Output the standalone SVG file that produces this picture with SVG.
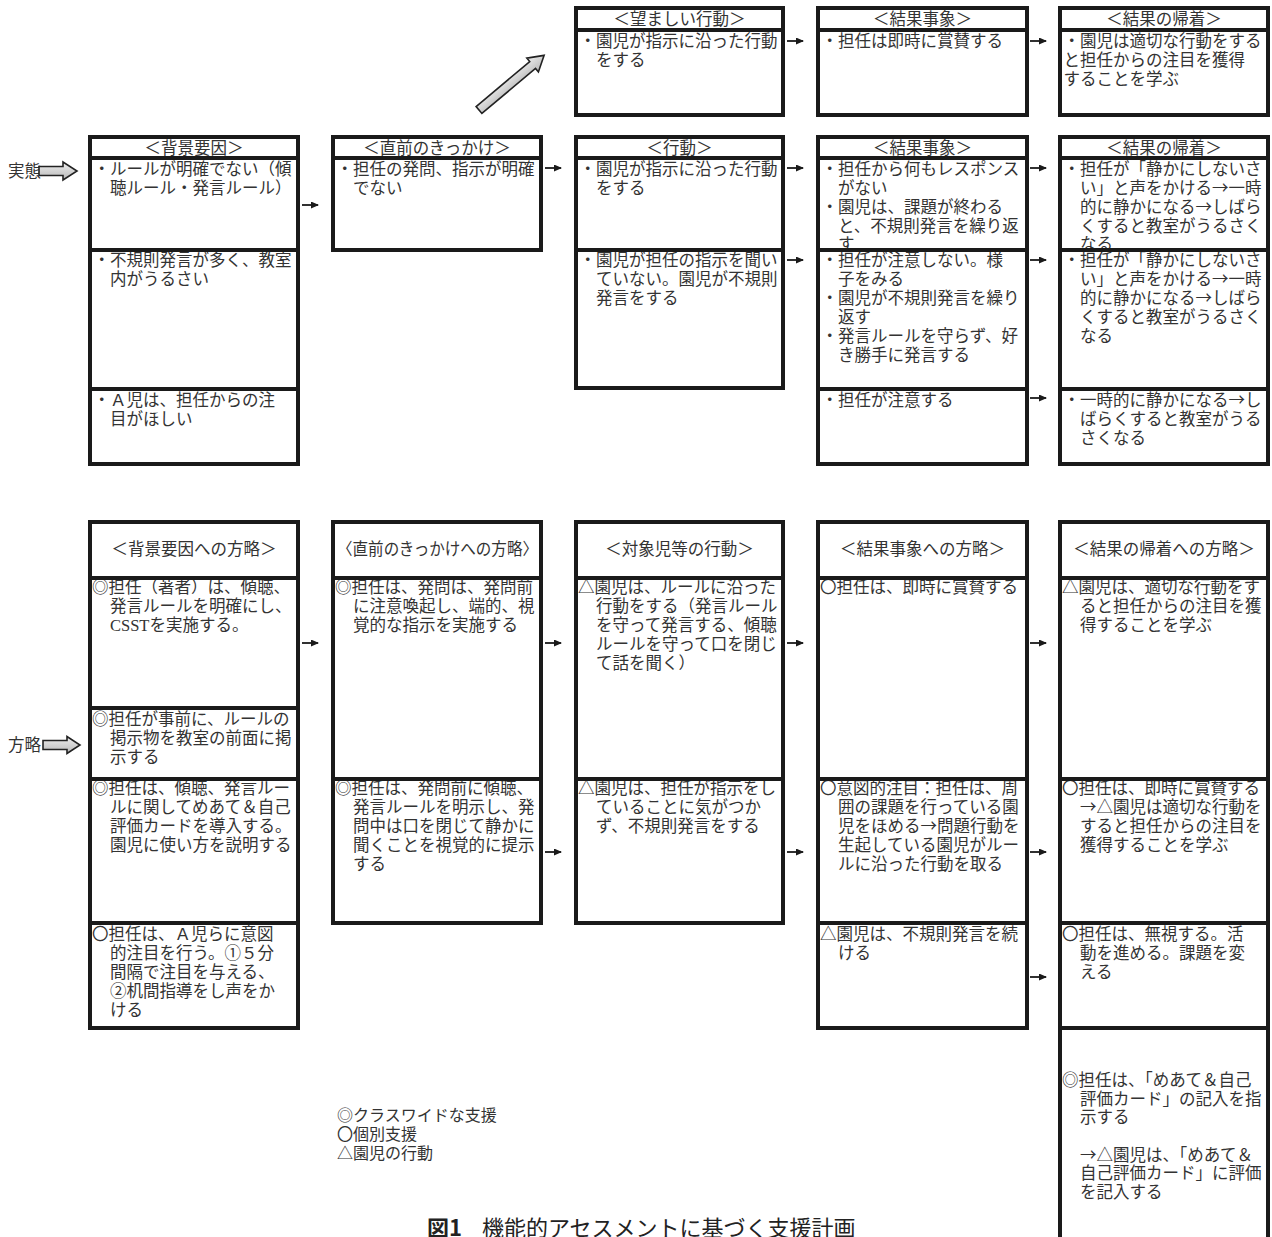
<svg xmlns="http://www.w3.org/2000/svg" width="1272" height="1237" viewBox="0 0 1272 1237">
<defs>
<style>
.b{fill:none;stroke:#1a1a1a;stroke-width:4}
.t{font-family:"Noto Sans CJK JP","Noto Sans CJK SC",sans-serif;font-size:16.5px;fill:#333}
.m{text-anchor:middle}
.c{stroke:#1a1a1a;stroke-width:1.8;fill:none;marker-end:url(#ah)}
.ba{fill:url(#gr);stroke:#222;stroke-width:1.6;stroke-linejoin:miter}
.lg{font-family:"Noto Sans CJK JP","Noto Sans CJK SC",sans-serif;font-size:16px;fill:#333}
</style>
<linearGradient id="gr" x1="0" y1="0" x2="0" y2="1">
<stop offset="0" stop-color="#eeeeee"/>
<stop offset="1" stop-color="#b8b8b8"/>
</linearGradient>
<marker id="ah" markerUnits="userSpaceOnUse" markerWidth="8" markerHeight="7" refX="7" refY="3.5" orient="auto">
<path d="M0,0 L8,3.5 L0,7 z" fill="#1a1a1a"/>
</marker>
</defs>
<rect width="1272" height="1237" fill="#fff"/>

<!-- side labels -->
<g id="label-jittai">
<text class="t" x="8" y="177" font-size="16">実態</text>
<polygon class="ba" points="39,166.5 63,166.5 63,162 77,171 63,180 63,175.5 39,175.5"/>
</g>
<g id="label-houryaku">
<text class="t" x="8" y="751" font-size="16">方略</text>
<polygon class="ba" points="43,740.5 67,740.5 67,736.5 80,745 67,753.5 67,749.5 43,749.5"/>
</g>
<g id="diag-arrow">
<polygon class="ba" transform="translate(479,110) rotate(-40)" points="0,-4.5 70,-4.5 70,-9 85,0 70,9 70,4.5 0,4.5"/>
</g>

<!-- top row -->
<g id="top-behavior">
<text class="t m" x="679.5" y="25">＜望ましい行動＞</text>
<text class="t" x="579.5" y="47">・園児が指示に沿った行動</text>
<text class="t" x="596" y="66">をする</text>
<rect class="b" x="576" y="8" width="207" height="107"/>
<line class="b" x1="576" y1="30" x2="783" y2="30"/>
</g>
<g id="top-result">
<text class="t m" x="922.5" y="25">＜結果事象＞</text>
<text class="t" x="821.5" y="47">・担任は即時に賞賛する</text>
<rect class="b" x="818" y="8" width="209" height="107"/>
<line class="b" x1="818" y1="30" x2="1027" y2="30"/>
</g>
<g id="top-consequence">
<text class="t m" x="1164" y="25">＜結果の帰着＞</text>
<text class="t" x="1063.5" y="47">・園児は適切な行動をする</text>
<text class="t" x="1063.5" y="66">と担任からの注目を獲得</text>
<text class="t" x="1063.5" y="85">することを学ぶ</text>
<rect class="b" x="1060" y="8" width="208" height="107"/>
<line class="b" x1="1060" y1="30" x2="1268" y2="30"/>
</g>

<!-- row 2: 実態 -->
<g id="r2-background">
<text class="t m" x="194" y="154">＜背景要因＞</text>
<text class="t" x="93.5" y="175">・ルールが明確でない（傾</text>
<text class="t" x="110" y="194">聴ルール・発言ルール）</text>
<text class="t" x="93.5" y="266">・不規則発言が多く、教室</text>
<text class="t" x="110" y="285">内がうるさい</text>
<text class="t" x="93.5" y="406">・Ａ児は、担任からの注</text>
<text class="t" x="110" y="425">目がほしい</text>
<rect class="b" x="90" y="137" width="208" height="327"/>
<line class="b" x1="90" y1="158" x2="298" y2="158"/>
<line class="b" x1="90" y1="250" x2="298" y2="250"/>
<line class="b" x1="90" y1="389" x2="298" y2="389"/>
</g>
<g id="r2-antecedent">
<text class="t m" x="437" y="154">＜直前のきっかけ＞</text>
<text class="t" x="336.5" y="175">・担任の発問、指示が明確</text>
<text class="t" x="353" y="194">でない</text>
<rect class="b" x="333" y="137" width="208" height="113"/>
<line class="b" x1="333" y1="158" x2="541" y2="158"/>
</g>
<g id="r2-behavior">
<text class="t m" x="679.5" y="154">＜行動＞</text>
<text class="t" x="579.5" y="175">・園児が指示に沿った行動</text>
<text class="t" x="596" y="194">をする</text>
<text class="t" x="579.5" y="266">・園児が担任の指示を聞い</text>
<text class="t" x="596" y="285">ていない。園児が不規則</text>
<text class="t" x="596" y="304">発言をする</text>
<rect class="b" x="576" y="137" width="207" height="251"/>
<line class="b" x1="576" y1="158" x2="783" y2="158"/>
<line class="b" x1="576" y1="250" x2="783" y2="250"/>
</g>
<g id="r2-result">
<text class="t m" x="922.5" y="154">＜結果事象＞</text>
<text class="t" x="821.5" y="175">・担任から何もレスポンス</text>
<text class="t" x="838" y="194">がない</text>
<text class="t" x="821.5" y="213">・園児は、課題が終わる</text>
<text class="t" x="838" y="232">と、不規則発言を繰り返</text>
<text class="t" x="838" y="250">す</text>
<text class="t" x="821.5" y="266">・担任が注意しない。様</text>
<text class="t" x="838" y="285">子をみる</text>
<text class="t" x="821.5" y="304">・園児が不規則発言を繰り</text>
<text class="t" x="838" y="323">返す</text>
<text class="t" x="821.5" y="342">・発言ルールを守らず、好</text>
<text class="t" x="838" y="361">き勝手に発言する</text>
<text class="t" x="821.5" y="406">・担任が注意する</text>
<rect class="b" x="818" y="137" width="209" height="327"/>
<line class="b" x1="818" y1="158" x2="1027" y2="158"/>
<line class="b" x1="818" y1="250" x2="1027" y2="250"/>
<line class="b" x1="818" y1="389" x2="1027" y2="389"/>
</g>
<g id="r2-consequence">
<text class="t m" x="1164" y="154">＜結果の帰着＞</text>
<text class="t" x="1063.5" y="175">・担任が「静かにしないさ</text>
<text class="t" x="1080" y="194">い」と声をかける→一時</text>
<text class="t" x="1080" y="213">的に静かになる→しばら</text>
<text class="t" x="1080" y="232">くすると教室がうるさく</text>
<text class="t" x="1080" y="250">なる</text>
<text class="t" x="1063.5" y="266">・担任が「静かにしないさ</text>
<text class="t" x="1080" y="285">い」と声をかける→一時</text>
<text class="t" x="1080" y="304">的に静かになる→しばら</text>
<text class="t" x="1080" y="323">くすると教室がうるさく</text>
<text class="t" x="1080" y="342">なる</text>
<text class="t" x="1063.5" y="406">・一時的に静かになる→し</text>
<text class="t" x="1080" y="425">ばらくすると教室がうる</text>
<text class="t" x="1080" y="444">さくなる</text>
<rect class="b" x="1060" y="137" width="208" height="327"/>
<line class="b" x1="1060" y1="158" x2="1268" y2="158"/>
<line class="b" x1="1060" y1="250" x2="1268" y2="250"/>
<line class="b" x1="1060" y1="389" x2="1268" y2="389"/>
</g>

<!-- row 3: 方略 -->
<g id="r3-background">
<text class="t m" x="194" y="555">＜背景要因への方略＞</text>
<text class="t" x="92" y="593">◎担任（著者）は、傾聴、</text>
<text class="t" x="110" y="612">発言ルールを明確にし、</text>
<text class="t" x="110" y="631"><tspan font-family="Liberation Serif">CSST</tspan>を実施する。</text>
<text class="t" x="92" y="725">◎担任が事前に、ルールの</text>
<text class="t" x="110" y="744">掲示物を教室の前面に掲</text>
<text class="t" x="110" y="763">示する</text>
<text class="t" x="92" y="794">◎担任は、傾聴、発言ルー</text>
<text class="t" x="110" y="813">ルに関してめあて＆自己</text>
<text class="t" x="110" y="832">評価カードを導入する。</text>
<text class="t" x="110" y="851">園児に使い方を説明する</text>
<text class="t" x="92" y="940">〇担任は、Ａ児らに意図</text>
<text class="t" x="110" y="959">的注目を行う。①５分</text>
<text class="t" x="110" y="978">間隔で注目を与える、</text>
<text class="t" x="110" y="997">②机間指導をし声をか</text>
<text class="t" x="110" y="1016">ける</text>
<rect class="b" x="90" y="522" width="208" height="506"/>
<line class="b" x1="90" y1="578" x2="298" y2="578"/>
<line class="b" x1="90" y1="708" x2="298" y2="708"/>
<line class="b" x1="90" y1="779" x2="298" y2="779"/>
<line class="b" x1="90" y1="923" x2="298" y2="923"/>
</g>
<g id="r3-antecedent">
<text class="t" x="337" y="555" textLength="201" lengthAdjust="spacingAndGlyphs">〈直前のきっかけへの方略〉</text>
<text class="t" x="335" y="593">◎担任は、発問は、発問前</text>
<text class="t" x="353" y="612">に注意喚起し、端的、視</text>
<text class="t" x="353" y="631">覚的な指示を実施する</text>
<text class="t" x="335" y="794">◎担任は、発問前に傾聴、</text>
<text class="t" x="353" y="813">発言ルールを明示し、発</text>
<text class="t" x="353" y="832">問中は口を閉じて静かに</text>
<text class="t" x="353" y="851">聞くことを視覚的に提示</text>
<text class="t" x="353" y="870">する</text>
<rect class="b" x="333" y="522" width="208" height="401"/>
<line class="b" x1="333" y1="578" x2="541" y2="578"/>
<line class="b" x1="333" y1="779" x2="541" y2="779"/>
</g>
<g id="r3-behavior">
<text class="t m" x="679.5" y="555">＜対象児等の行動＞</text>
<text class="t" x="578" y="593">△園児は、ルールに沿った</text>
<text class="t" x="596" y="612">行動をする（発言ルール</text>
<text class="t" x="596" y="631">を守って発言する、傾聴</text>
<text class="t" x="596" y="650">ルールを守って口を閉じ</text>
<text class="t" x="596" y="669">て話を聞く）</text>
<text class="t" x="578" y="794">△園児は、担任が指示をし</text>
<text class="t" x="596" y="813">ていることに気がつか</text>
<text class="t" x="596" y="832">ず、不規則発言をする</text>
<rect class="b" x="576" y="522" width="207" height="401"/>
<line class="b" x1="576" y1="578" x2="783" y2="578"/>
<line class="b" x1="576" y1="779" x2="783" y2="779"/>
</g>
<g id="r3-result">
<text class="t m" x="922.5" y="555">＜結果事象への方略＞</text>
<text class="t" x="820" y="593">〇担任は、即時に賞賛する</text>
<text class="t" x="820" y="794">〇意図的注目：担任は、周</text>
<text class="t" x="838" y="813">囲の課題を行っている園</text>
<text class="t" x="838" y="832">児をほめる→問題行動を</text>
<text class="t" x="838" y="851">生起している園児がルー</text>
<text class="t" x="838" y="870">ルに沿った行動を取る</text>
<text class="t" x="820" y="940">△園児は、不規則発言を続</text>
<text class="t" x="838" y="959">ける</text>
<rect class="b" x="818" y="522" width="209" height="506"/>
<line class="b" x1="818" y1="578" x2="1027" y2="578"/>
<line class="b" x1="818" y1="779" x2="1027" y2="779"/>
<line class="b" x1="818" y1="923" x2="1027" y2="923"/>
</g>
<g id="r3-consequence">
<text class="t m" x="1164" y="555">＜結果の帰着への方略＞</text>
<text class="t" x="1062" y="593">△園児は、適切な行動をす</text>
<text class="t" x="1080" y="612">ると担任からの注目を獲</text>
<text class="t" x="1080" y="631">得することを学ぶ</text>
<text class="t" x="1062" y="794">〇担任は、即時に賞賛する</text>
<text class="t" x="1080" y="813">→△園児は適切な行動を</text>
<text class="t" x="1080" y="832">すると担任からの注目を</text>
<text class="t" x="1080" y="851">獲得することを学ぶ</text>
<text class="t" x="1062" y="940">〇担任は、無視する。活</text>
<text class="t" x="1080" y="959">動を進める。課題を変</text>
<text class="t" x="1080" y="978">える</text>
<text class="t" x="1062" y="1086">◎担任は、「めあて＆自己</text>
<text class="t" x="1080" y="1105">評価カード」の記入を指</text>
<text class="t" x="1080" y="1123">示する</text>
<text class="t" x="1080" y="1161">→△園児は、「めあて＆</text>
<text class="t" x="1080" y="1179">自己評価カード」に評価</text>
<text class="t" x="1080" y="1198">を記入する</text>
<path class="b" d="M1060,1240 V522 H1268 V1240"/>
<line class="b" x1="1060" y1="578" x2="1268" y2="578"/>
<line class="b" x1="1060" y1="779" x2="1268" y2="779"/>
<line class="b" x1="1060" y1="923" x2="1268" y2="923"/>
<line class="b" x1="1060" y1="1028" x2="1268" y2="1028"/>
</g>

<!-- connectors -->
<g id="connectors">
<line class="c" x1="787" y1="41" x2="803" y2="41"/>
<line class="c" x1="1030" y1="41" x2="1046" y2="41"/>
<line class="c" x1="302" y1="205" x2="318" y2="205"/>
<line class="c" x1="545" y1="168" x2="561" y2="168"/>
<line class="c" x1="787" y1="168" x2="803" y2="168"/>
<line class="c" x1="787" y1="260" x2="803" y2="260"/>
<line class="c" x1="1030" y1="168" x2="1046" y2="168"/>
<line class="c" x1="1030" y1="260" x2="1046" y2="260"/>
<line class="c" x1="1030" y1="398" x2="1046" y2="398"/>
<line class="c" x1="302" y1="643" x2="318" y2="643"/>
<line class="c" x1="545" y1="643" x2="561" y2="643"/>
<line class="c" x1="787" y1="643" x2="803" y2="643"/>
<line class="c" x1="1030" y1="643" x2="1046" y2="643"/>
<line class="c" x1="545" y1="852" x2="561" y2="852"/>
<line class="c" x1="787" y1="852" x2="803" y2="852"/>
<line class="c" x1="1030" y1="852" x2="1046" y2="852"/>
<line class="c" x1="1030" y1="977" x2="1046" y2="977"/>
</g>

<!-- legend -->
<g id="legend">
<text class="lg" x="337" y="1121">◎クラスワイドな支援</text>
<text class="lg" x="337" y="1140">〇個別支援</text>
<text class="lg" x="337" y="1159">△園児の行動</text>
</g>

<!-- caption -->
<g id="caption">
<text x="427" y="1236" font-family="Noto Sans CJK JP, sans-serif" font-size="22" fill="#222"><tspan font-weight="bold">図1</tspan><tspan x="482">機能的アセスメントに基づく支援計画</tspan></text>
</g>
</svg>
